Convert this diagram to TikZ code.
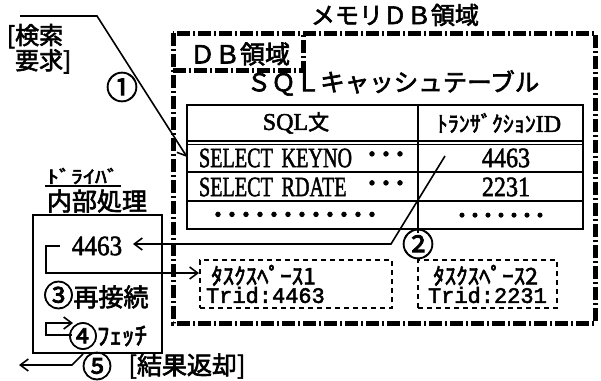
\documentclass[tikz,border=0pt]{standalone}
\usepackage{fontspec}
\newfontfamily\jp{Noto Sans CJK JP}[FakeBold=2.5]
\newfontfamily\sr{Liberation Serif}[FakeBold=2]
\newfontfamily\mn{Liberation Mono}[FakeBold=2.5]
\usetikzlibrary{arrows.meta}
\newcommand{\lowbox}[1]{\raisebox{0pt}[14pt][0pt]{#1}}
\begin{document}
\begin{tikzpicture}[x=1pt,y=-1pt,
  txt/.style={inner sep=0pt, outer sep=0pt},
  jpl/.style={txt, font=\jp\fontsize{24}{24}\selectfont},
  jpm/.style={txt, font=\jp\fontsize{22}{22}\selectfont},
  srl/.style={txt, font=\sr\fontsize{28}{28}\selectfont},
  circ/.style={txt, font=\jp\fontsize{32}{32}\selectfont},
  dbborder/.style={line width=5pt, dash pattern=on 13pt off 3pt on 2pt off 3pt},
  tline/.style={line width=1.8pt},
  tsbox/.style={draw, line width=1.6pt, dash pattern=on 5pt off 4pt, minimum width=192pt, minimum height=48pt, inner sep=0pt},
  tstext/.style={txt, align=left, anchor=west},
  conn/.style={line width=1.6pt},
  arr/.style={conn, -{Straight Barb[length=8pt,width=12pt,line width=1.6pt]}}
]
\useasboundingbox (0,0) rectangle (601,380);

% title
\node[jpl] (title) at (395,15) {メモリＤＢ領域};

% DB area border
\draw[dbborder] (173,33) rectangle (595,323);
\draw[dbborder] (173,70) -- (303,70) -- (303,33);
\node[jpl, font=\jp\fontsize{25}{25}\selectfont] (dblbl) at (240,54) {ＤＢ領域};

% SQL cache table
\node[jpl, font=\jp\fontsize{24.5}{24.5}\selectfont] (cachettl) at (393,83) {ＳＱＬキャッシュテーブル};
\node[draw, tline, minimum width=396pt, minimum height=124pt, inner sep=0pt] (tbl) at (385,167) {};
\draw[tline] (187,141) -- (583,141);
\draw[tline] (187,144.5) -- (583,144.5);
\draw[tline] (187,172) -- (583,172);
\draw[tline] (187,201) -- (583,201);
\node[circ] (n2) at (418,244) {②};
\draw[tline] (418,105) -- (418,233);

\node[txt] (hsql) at (296,123) {{\sr\fontsize{24}{24}\selectfont SQL}{\jp\fontsize{21}{21}\selectfont 文}};
\node[txt] (htid) at (499,123) {{\jp\fontsize{22}{22}\selectfont ﾄﾗﾝｻﾞｸｼｮﾝ}{\sr\fontsize{24}{24}\selectfont ID}};

\node[srl, anchor=west, xscale=0.72] (r1) at (199,158) {SELECT\hspace{12pt}KEYNO};
\node[jpl, font=\jp\fontsize{28}{28}\selectfont] (r1d) at (386,158) {･･･};
\node[srl, xscale=0.86] (t1) at (506,158) {4463};
\node[srl, anchor=west, xscale=0.72] (r2) at (199,187) {SELECT\hspace{12pt}RDATE};
\node[jpl, font=\jp\fontsize{28}{28}\selectfont] (r2d) at (386,187) {･･･};
\node[srl, xscale=0.86] (t2) at (506,187) {2231};
\node[jpl, font=\jp\fontsize{28}{28}\selectfont] (r3d) at (295,218) {\lowbox{････････････}};
\node[jpl, font=\jp\fontsize{26}{26}\selectfont] (t3d) at (501,218) {\lowbox{･･･････}};

% task spaces
\node[tsbox] (ts1) at (296,284) {};
\node[tsbox, minimum width=139pt] (ts2) at (487.5,284) {};
\node[tstext] (ts1t) at (206,284) {{\jp\fontsize{23}{21}\selectfont\ ﾀｽｸｽﾍﾟｰｽ1}\\{\mn\fontsize{22}{21}\selectfont Trid:4463}};
\node[tstext] (ts2t) at (428,284) {{\jp\fontsize{23}{21}\selectfont\ ﾀｽｸｽﾍﾟｰｽ2}\\{\mn\fontsize{22}{21}\selectfont Trid:2231}};

% request
\node[jpm, align=left, anchor=north west, font=\jp\fontsize{24}{20}\selectfont] (req) at (7,24) {[検索\\\phantom{[}要求]};
\node[circ] (n1) at (122,87) {①};
\coordinate (reqs) at (20,16);
\coordinate (reqb) at (97,16);
\coordinate (row1w) at (187,157);
\draw[arr] (reqs) -- (reqb) -- (row1w);

% driver
\node[txt, font=\jp\fontsize{20}{20}\selectfont, xscale=1.2, yscale=0.9] (drvlbl) at (83,176) {ﾄﾞﾗｲﾊﾞ};
\draw[conn] (45,186) -- (121,186);
\node[jpl, font=\jp\fontsize{25}{25}\selectfont] (inner) at (97,201) {内部処理};
\node[draw, tline, minimum width=129pt, minimum height=138pt, inner sep=0pt] (drv) at (97.5,284) {};
\node[srl, xscale=0.9] (d4463) at (97,246) {4463};
\node[txt] (n3) at (96,295) {{\jp\fontsize{30}{30}\selectfont ③}{\jp\fontsize{25}{25}\selectfont 再接続}};
\node[txt, font=\jp\fontsize{29}{29}\selectfont] (n4) at (83,336) {④};
\node[jpl, font=\jp\fontsize{25}{25}\selectfont] (fetch) at (122,336) {ﾌｪｯﾁ};
\node[circ, font=\jp\fontsize{30}{30}\selectfont] (n5) at (97,366) {⑤};
\node[jpl, font=\jp\fontsize{25}{25}\selectfont] (res) at (187,366) {[結果返却]};

% connector 2: transaction id -> driver
\coordinate (c2a) at (445,156);
\coordinate (c2b) at (391,244);
\coordinate (c2e) at (133,244);
\draw[arr] (c2a) -- (c2b) -- (c2e);

% connector 3: driver 4463 -> task space 1
\coordinate (c3s) at (60,246);
\coordinate (c3e) at (199,273);
\draw[arr] (c3s) -- ++(-14,0) |- (c3e);

% connector 4: fetch loop
\coordinate (c4s) at (72,335);
\coordinate (c4e) at (73,323);
\draw[arr] (c4s) -- ++(-26,0) |- (c4e);

% connector 5: result return
\coordinate (c5b) at (72,365);
\coordinate (c5e) at (19,365);
\draw[arr] ([xshift=-14.5pt]drv.south) -- (c5b) -- (c5e);
\end{tikzpicture}
\end{document}
